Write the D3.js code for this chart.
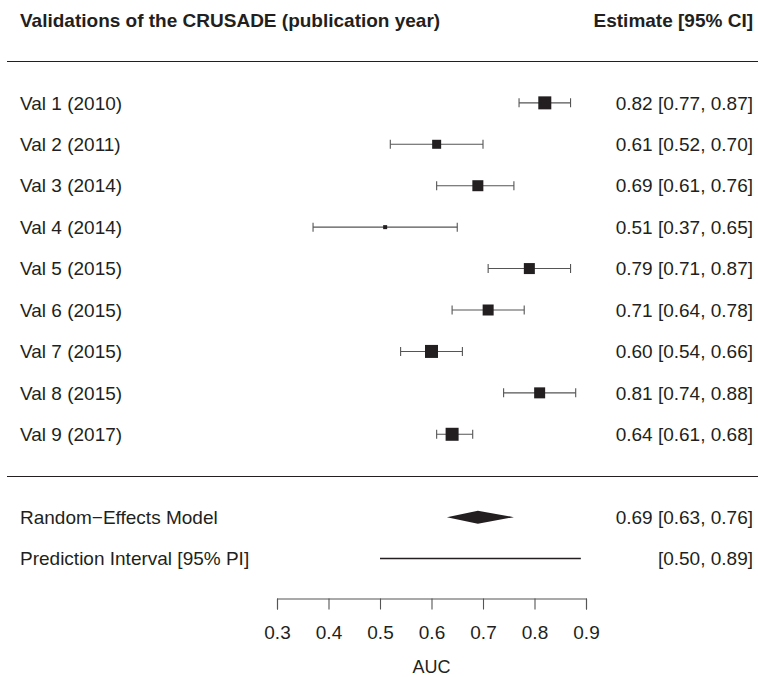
<!DOCTYPE html>
<html>
<head>
<meta charset="utf-8">
<script src="https://cdn.jsdelivr.net/npm/d3@7"></script>
<style>
  body { margin: 0; background: #fff; }
  text { font-family: "Liberation Sans", Arial, sans-serif; fill: #231f20; }
</style>
</head>
<body>
<div id="dataViz"></div>
<script>
/* study rows */
const studies = ["Val 1 (2010)", "Val 2 (2011)", "Val 3 (2014)", "Val 4 (2014)", "Val 5 (2015)",
                 "Val 6 (2015)", "Val 7 (2015)", "Val 8 (2015)", "Val 9 (2017)"];
const est   = [0.82, 0.61, 0.69, 0.51, 0.79, 0.71, 0.60, 0.81, 0.64];
const lower = [0.77, 0.52, 0.61, 0.37, 0.71, 0.64, 0.54, 0.74, 0.61];
const upper = [0.87, 0.70, 0.76, 0.65, 0.87, 0.78, 0.66, 0.88, 0.68];
// relative study weights
const weights = [13, 9, 11, 4, 11, 11, 13, 11, 13];

/* pooled estimate + prediction interval */
const pooled = { est: 0.69, lo: 0.63, hi: 0.76 };
const predInt = { lo: 0.50, hi: 0.89 };

const xTicks = [0.3, 0.4, 0.5, 0.6, 0.7, 0.8, 0.9];

const W = 758, H = 677;
const svg = d3.select("#dataViz").append("svg")
              .attr("width", W).attr("height", H);

/* scales */
const x = d3.scaleLinear().domain([0.3, 0.9]).range([277, 586]);
// row index -> y ; header at -2, axis at 12
const row = d3.scaleLinear().domain([-2, 12]).range([20, 600]);
const sq = d3.scaleLinear().domain([4, 13]).range([4, 13]);

const leftX = 20, rightX = 753, fs = 19;

/* header */
svg.append("text").attr("x", leftX).attr("y", row(-2)).attr("dy", "0.35em")
   .style("font-size", fs + "px").style("font-weight", "bold")
   .text("Validations of the CRUSADE (publication year)");
svg.append("text").attr("x", rightX).attr("y", row(-2)).attr("dy", "0.35em")
   .attr("text-anchor", "end")
   .style("font-size", fs + "px").style("font-weight", "bold")
   .text("Estimate [95% CI]");

/* separator lines */
[-1, 9].forEach(r => {
    svg.append("line").attr("x1", 7).attr("x2", W)
       .attr("y1", Math.round(row(r)) + 0.5).attr("y2", Math.round(row(r)) + 0.5)
       .attr("stroke", "#231f20").attr("stroke-width", 1.2);
});

const fmt = d3.format(".2f");

/* study rows */
const rows = svg.selectAll(".study")
    .data(studies.map((s, i) => ({ s, i, e: est[i], lo: lower[i], hi: upper[i], w: weights[i] })))
    .enter().append("g").attr("class", "study")
    .attr("transform", d => `translate(0, ${row(d.i)})`);

rows.append("text").attr("x", leftX).attr("dy", "0.35em")
    .style("font-size", fs + "px").text(d => d.s);
rows.append("text").attr("x", rightX).attr("dy", "0.35em").attr("text-anchor", "end")
    .style("font-size", fs + "px")
    .text(d => `${fmt(d.e)} [${fmt(d.lo)}, ${fmt(d.hi)}]`);

rows.append("line").attr("x1", d => x(d.lo)).attr("x2", d => x(d.hi))
    .attr("stroke", "#555").attr("stroke-width", 1.1);
rows.append("line").attr("x1", d => x(d.lo)).attr("x2", d => x(d.lo))
    .attr("y1", -4.5).attr("y2", 4.5).attr("stroke", "#555").attr("stroke-width", 1.1);
rows.append("line").attr("x1", d => x(d.hi)).attr("x2", d => x(d.hi))
    .attr("y1", -4.5).attr("y2", 4.5).attr("stroke", "#555").attr("stroke-width", 1.1);
rows.append("rect")
    .attr("x", d => x(d.e) - sq(d.w) / 2).attr("y", d => -sq(d.w) / 2)
    .attr("width", d => sq(d.w)).attr("height", d => sq(d.w))
    .attr("fill", "#231f20");

/* random-effects model */
const yRE = row(10);
svg.append("text").attr("x", leftX).attr("y", yRE).attr("dy", "0.35em")
   .style("font-size", fs + "px").text("Random\u2212Effects Model");
svg.append("text").attr("x", rightX).attr("y", yRE).attr("dy", "0.35em").attr("text-anchor", "end")
   .style("font-size", fs + "px")
   .text(`${fmt(pooled.est)} [${fmt(pooled.lo)}, ${fmt(pooled.hi)}]`);
svg.append("path")
   .attr("d", `M${x(pooled.lo)},${yRE} L${x(pooled.est)},${yRE - 6.5} L${x(pooled.hi)},${yRE} L${x(pooled.est)},${yRE + 6.5} Z`)
   .attr("fill", "#231f20");

/* prediction interval */
const yPI = row(11);
svg.append("text").attr("x", leftX).attr("y", yPI).attr("dy", "0.35em")
   .style("font-size", fs + "px").text("Prediction Interval [95% PI]");
svg.append("text").attr("x", rightX).attr("y", yPI).attr("dy", "0.35em").attr("text-anchor", "end")
   .style("font-size", fs + "px")
   .text(`[${fmt(predInt.lo)}, ${fmt(predInt.hi)}]`);
svg.append("line").attr("x1", x(predInt.lo)).attr("x2", x(predInt.hi))
   .attr("y1", yPI).attr("y2", yPI).attr("stroke", "#231f20").attr("stroke-width", 1.6);

/* x axis */
const axis = svg.append("g").attr("transform", `translate(0, ${Math.round(row(12)) - 1.5})`)
    .call(d3.axisBottom(x).tickValues(xTicks).tickSize(11).tickPadding(16).tickFormat(d3.format(".1f")));
axis.select(".domain").attr("stroke", "#555").attr("stroke-width", 1.1);
axis.selectAll(".tick line").attr("stroke", "#555").attr("stroke-width", 1.1);
axis.selectAll(".tick text").style("font-size", fs + "px")
    .style("font-family", '"Liberation Sans", Arial, sans-serif').attr("fill", "#231f20");
// axis title sits close to the bottom edge, keep its descent inside
svg.append("text").attr("x", x(0.6)).attr("y", 673).attr("text-anchor", "middle")
   .style("font-size", "18px").text("AUC");
</script>
</body>
</html>
